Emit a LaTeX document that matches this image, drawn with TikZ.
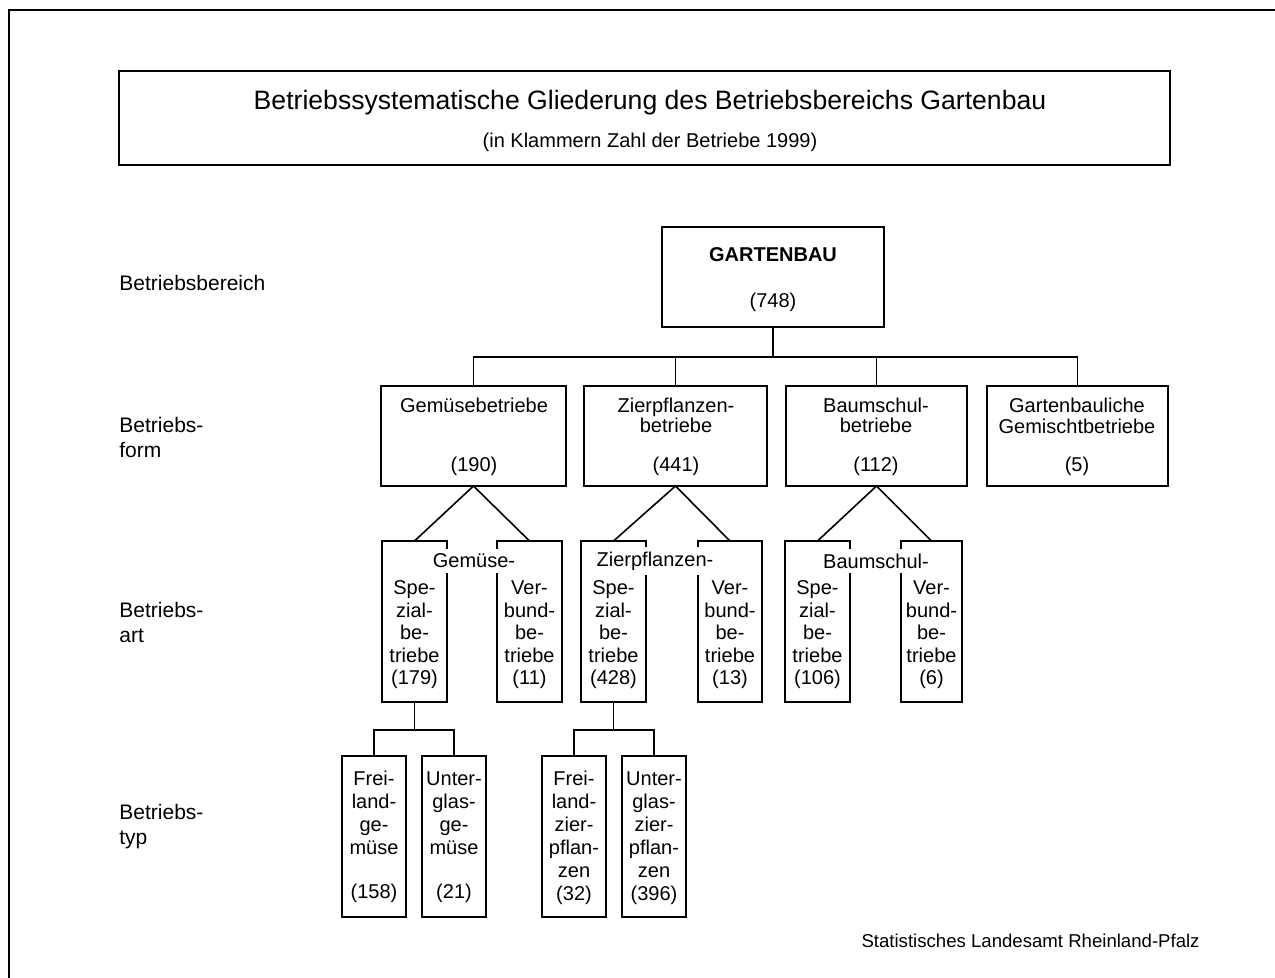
\documentclass[tikz,border=0pt]{standalone}
\usepackage{fontspec}
\setmainfont{Liberation Sans}
\tikzset{
  box/.style={draw, line width=1pt, inner sep=0pt, outer sep=0pt},
  txt/.style={inner sep=0pt, align=center, font=\fontsize{10}{11.25}\selectfont},
  gaptxt/.style={fill=white, inner xsep=1pt, inner ysep=2.5pt, font=\fontsize{10}{11.25}\selectfont},
  lbl/.style={inner sep=0pt, anchor=west, align=left, font=\fontsize{10.5}{12.5}\selectfont},
  conn/.style={line width=0.8pt},
}
\newcommand\mybox[5]{\node[box, minimum width={(#4-#2)*0.5pt}, minimum height={(#5-#3)*0.5pt}] (#1) at ({(#2+#4)/2},{(#3+#5)/2}) {};}
\begin{document}
\begin{tikzpicture}[x=0.5pt,y=-0.5pt]
\useasboundingbox (0,0) rectangle (1275,978);
% outer frame
\draw[line width=1pt] (9,978) -- (9,10) -- (1275,10);
% title
\mybox{title}{119}{71}{1170}{165}
\node[inner sep=0pt, font=\fontsize{13.3}{15}\selectfont] (t1) at (650,103) {Betriebssystematische Gliederung des Betriebsbereichs Gartenbau};
\node[inner sep=0pt, font=\fontsize{10}{12}\selectfont] (t2) at (650,142) {(in Klammern Zahl der Betriebe 1999)};
% left labels
\node[lbl] (l1) at (119,283) {Betriebsbereich};
\node[lbl] (l2) at (119,437.5) {Betriebs-\\form};
\node[lbl] (l3) at (119,622) {Betriebs-\\art};
\node[lbl] (l4) at (119,827) {Betriebs-\\typ};
% level 1
\mybox{gb}{662}{227}{884}{327}
\node[txt, font=\bfseries\fontsize{10}{12}\selectfont] (gbt) at (773,255) {GARTENBAU};
\node[txt] (gbn) at (773,302) {(748)};
% level 2
\mybox{ge}{381}{386}{566}{486}
\mybox{zi}{584}{386}{767}{486}
\mybox{ba}{786}{386}{967}{486}
\mybox{gm}{987}{386}{1168}{486}
\node[txt] (get) at (474,405) {Gemüsebetriebe};
\node[txt] (gen) at (474,466) {(190)};
\node[txt, font=\fontsize{10}{10}\selectfont] (zit) at (676,415) {Zierpflanzen-\\betriebe};
\node[txt] (zin) at (676,466) {(441)};
\node[txt, font=\fontsize{10}{10}\selectfont] (bat) at (876,415) {Baumschul-\\betriebe};
\node[txt] (ban) at (876,466) {(112)};
\node[txt, font=\fontsize{10}{10.5}\selectfont] (gmt) at (1077,415.5) {Gartenbauliche\\Gemischtbetriebe};
\node[txt] (gmn) at (1077,466) {(5)};
\coordinate (j1) at (773,357);
\draw[conn] (gb.south) -- (j1);
\draw[conn] (ge.north) |- (j1);
\draw[conn] (zi.north) |- (j1);
\draw[conn] (ba.north) |- (j1);
\draw[conn] (gm.north) |- (j1);
% level 3
\mybox{ges}{382}{541}{447}{702}
\mybox{gev}{497}{541}{562}{702}
\mybox{zis}{581}{541}{646}{702}
\mybox{ziv}{698}{541}{762}{702}
\mybox{bas}{785}{541}{850}{702}
\mybox{bav}{901}{541}{962}{702}
\draw[conn] (ge.south) -- (ges.north);
\draw[conn] (ge.south) -- (gev.north);
\draw[conn] (zi.south) -- (zis.north);
\draw[conn] (zi.south) -- (ziv.north);
\draw[conn] (ba.south) -- (bas.north);
\draw[conn] (ba.south) -- (bav.north);
\node[gaptxt] (geg) at (474,561) {Gemüse-};
\node[gaptxt] (zig) at (655,561) {Zierpflanzen-};
\node[gaptxt] (bag) at (876,561) {Baumschul-};
\node[txt] (gest) at (414.5,635) {Spe-\\zial-\\be-\\triebe\\(179)};
\node[txt] (gevt) at (529.5,635) {Ver-\\bund-\\be-\\triebe\\(11)};
\node[txt] (zist) at (613.5,635) {Spe-\\zial-\\be-\\triebe\\(428)};
\node[txt] (zivt) at (730,635) {Ver-\\bund-\\be-\\triebe\\(13)};
\node[txt] (bast) at (817.5,635) {Spe-\\zial-\\be-\\triebe\\(106)};
\node[txt] (bavt) at (931.5,635) {Ver-\\bund-\\be-\\triebe\\(6)};
% level 4
\mybox{fg}{342}{756}{406}{917}
\mybox{ug}{422}{756}{486}{917}
\mybox{fz}{542}{756}{606}{917}
\mybox{uz}{622}{756}{686}{917}
\coordinate (j2) at (414.5,730);
\coordinate (j3) at (613.5,730);
\draw[conn] (ges.south) -- (j2);
\draw[conn] (fg.north) |- (j2);
\draw[conn] (ug.north) |- (j2);
\draw[conn] (zis.south) -- (j3);
\draw[conn] (fz.north) |- (j3);
\draw[conn] (uz.north) |- (j3);
\node[txt, font=\fontsize{10}{11.5}\selectfont] (fgt) at (374,815.5) {\strut Frei-\\land-\\ge-\\müse\strut};
\node[txt] (fgn) at (374,893) {(158)};
\node[txt, font=\fontsize{10}{11.5}\selectfont] (ugt) at (454,815.5) {\strut Unter-\\glas-\\ge-\\müse\strut};
\node[txt] (ugn) at (454,893) {(21)};
\node[txt, font=\fontsize{10}{11.5}\selectfont] (fzt) at (574,838.5) {\strut Frei-\\land-\\zier-\\pflan-\\zen\\(32)\strut};
\node[txt, font=\fontsize{10}{11.5}\selectfont] (uzt) at (654,838.5) {\strut Unter-\\glas-\\zier-\\pflan-\\zen\\(396)\strut};
% footer
\node[inner sep=0pt, anchor=east, font=\fontsize{9.3}{11}\selectfont] (foot) at (1200,941) {Statistisches Landesamt Rheinland-Pfalz};
\end{tikzpicture}
\end{document}
